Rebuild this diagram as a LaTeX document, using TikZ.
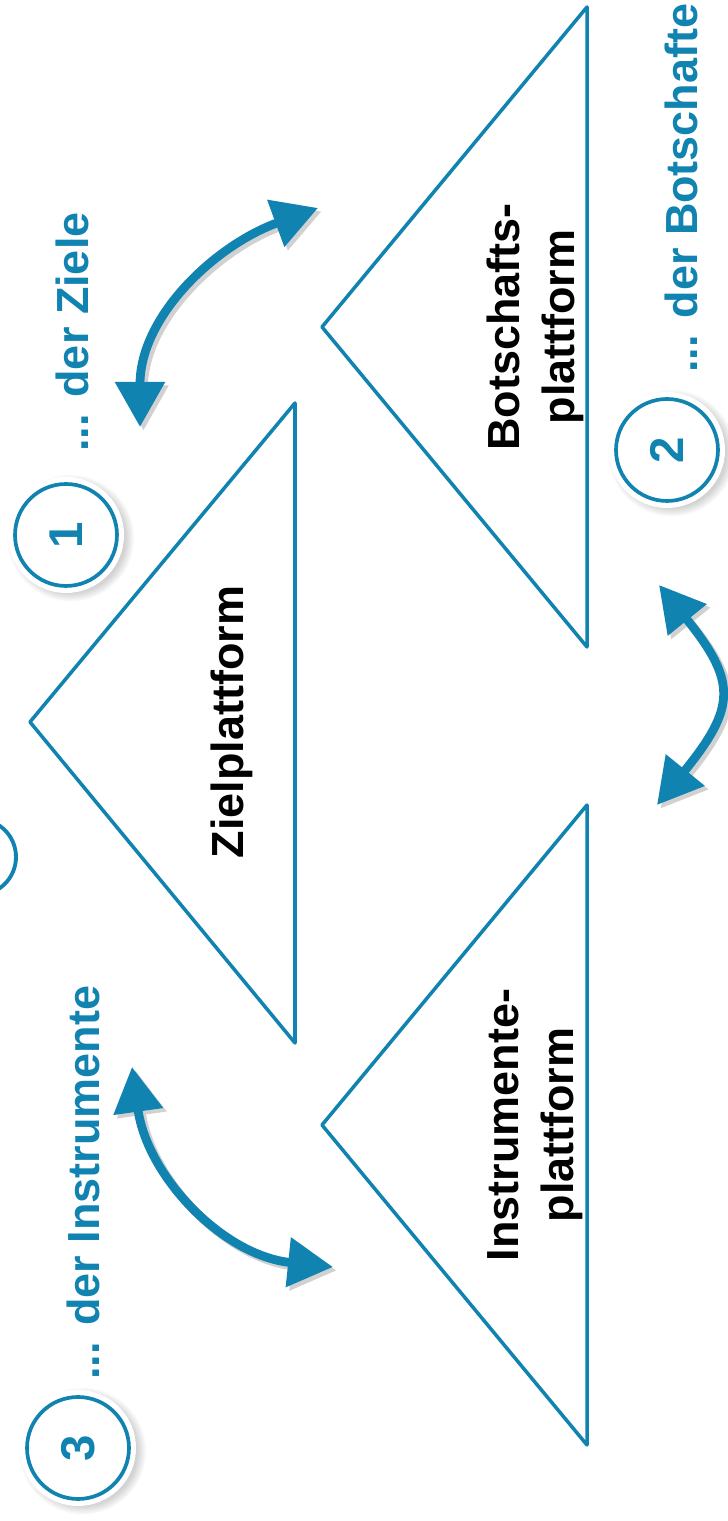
\documentclass[tikz,border=0pt]{standalone}
\usepackage{fontspec}
\setmainfont{Liberation Sans}
\usepackage{tikz}
\usetikzlibrary{arrows.meta, shadows, positioning, calc}
\definecolor{zblue}{RGB}{17,131,176}
\pgfdeclareradialshading{ringshade}{\pgfpoint{0bp}{0bp}}{color(0bp)=(white); color(32bp)=(white); color(50bp)=(black!28)}

\begin{document}
\begin{tikzpicture}[x=0.02cm, y=0.02cm, line join=round,
        tri/.style={draw=zblue, line width=2pt},
        platlabel/.style={rotate=90, align=center, inner sep=0pt, font=\bfseries\fontsize{25.6}{31.3}\selectfont},
        goal/.style={rotate=90, anchor=base west, inner sep=0pt, text=zblue, font=\bfseries\fontsize{25.6}{30}\selectfont},
        swap/.style={draw=zblue, line width=5pt, {Triangle[length=0.9cm,width=0.96cm]}-{Triangle[length=0.9cm,width=0.96cm]}},
        swapshade/.style={swap, draw=black!18, transform canvas={shift={(0.07cm,-0.07cm)}}}]
        \tikzstyle{badge}=[circle, fill=white, minimum size=2.32cm, inner sep=0pt,
            circular drop shadow={shadow xshift=0.08cm, shadow yshift=-0.05cm, opacity=0.35}]
        \tikzstyle{badgering}=[circle, draw=zblue, line width=2.1pt, minimum size=2.04cm, inner sep=0pt]
        \tikzstyle{badgecore}=[circle, shading=ringshade, minimum size=1.56cm, inner sep=0pt, text=zblue,
            font=\bfseries\fontsize{27}{30}\selectfont, rotate=90]
        \useasboundingbox (0,0) rectangle (727,1521);

        % triangles
        \coordinate (za) at (30,799);   \coordinate (zt) at (295,1118); \coordinate (zb) at (295,478);
        \coordinate (ba) at (322,1194); \coordinate (bt) at (587,1514); \coordinate (bb) at (587,874);
        \coordinate (ia) at (322,396);  \coordinate (it) at (587,716);  \coordinate (ib) at (587,76);
        \draw[tri] (za) -- (zt) -- (zb) -- cycle;
        \draw[tri] (ba) -- (bt) -- (bb) -- cycle;
        \draw[tri] (ia) -- (it) -- (ib) -- cycle;

        \node[platlabel] (zl) at (232,799) {Zielplattform};
        \node[platlabel] (bl) at (535,1194) {Botschafts-\\plattform};
        \node[platlabel] (il) at (535,396) {Instrumente-\\plattform};

        % ends of the double arrows
        \coordinate (zb1) at (140,1094); \coordinate (bz1) at (318,1313);
        \coordinate (bi1) at (659,936);  \coordinate (ib1) at (657,716);
        \coordinate (iz1) at (132,454);  \coordinate (zi1) at (333,254);
        \draw[swapshade] (zb1) to[out=90,in=200] (bz1);
        \draw[swap] (zb1) to[out=90,in=200] (bz1);
        \draw[swapshade] (ib1) to[out=51,in=-51,looseness=1.45] (bi1);
        \draw[swap] (ib1) to[out=51,in=-51,looseness=1.45] (bi1);
        \draw[swapshade] (iz1) to[out=-82,in=174] (zi1);
        \draw[swap] (iz1) to[out=-82,in=174] (zi1);

        % numbered badges
        \node[badge] (b1) at (66,986) {};
        \node[badgering] (r1) at (b1) {};
        \node[badgecore] (n1) at (b1) {1};
        \node[badge] (b2) at (667,1071) {};
        \node[badgering] (r2) at (b2) {};
        \node[badgecore] (n2) at (b2) {2};
        \node[badge] (b3) at (78,73) {};
        \node[badgering] (r3) at (b3) {};
        \node[badgecore] (n3) at (b3) {3};
        \node[circle, draw=zblue, line width=2.2pt, minimum size=1.52cm, inner sep=0pt] (frag) at (-22,664) {};

        \node[goal] (g1) at (88,1069) {... der Ziele};
        \node[goal] (g2) at (697,1148) {... der Botschaften};
        \node[goal] (g3) at (100,141) {... der Instrumente};
\end{tikzpicture}
\end{document}
